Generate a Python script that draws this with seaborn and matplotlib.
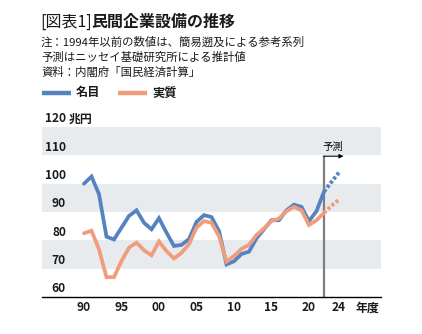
import numpy as np
import pandas as pd
import matplotlib
matplotlib.use("Agg")
import matplotlib.pyplot as plt
from matplotlib.lines import Line2D
import seaborn as sns

sns.set_theme(style="white")
plt.rcParams["font.family"] = ["Noto Sans CJK JP", "DejaVu Sans"]

# 年度 (fiscal years) and values, 兆円
years = list(range(1990, 2023))
nominal = [100.0, 102.5, 96.3, 81.3, 80.3, 84.5, 88.6, 90.6, 86.2, 83.9, 87.8,
           82.7, 78.0, 78.4, 80.4, 86.5, 88.9, 88.2, 83.3, 71.5, 72.6, 75.2,
           76.0, 80.7, 83.9, 87.1, 87.1, 90.6, 92.6, 91.8, 86.8, 90.3, 97.2]
real = [82.5, 83.4, 76.8, 67.0, 67.0, 72.7, 77.4, 79.2, 76.5, 74.7, 79.6,
        76.2, 73.6, 75.6, 78.6, 84.5, 86.8, 86.2, 81.5, 72.5, 74.5, 77.0,
        78.4, 81.9, 84.2, 86.8, 87.7, 90.3, 91.8, 90.6, 85.4, 87.1, 89.7]

fc_years = [2022, 2023, 2024]
fc_nominal = [97.2, 100.6, 104.0]
fc_real = [89.7, 92.2, 94.4]

series_names = ["名目", "実質"]
colors = {"名目": "#5483c0", "実質": "#f09d7d"}

yticks = [60, 70, 80, 90, 100, 110, 120]
xticks = [1990, 1995, 2000, 2005, 2010, 2015, 2020, 2024]
xticklabels = ["90", "95", "00", "05", "10", "15", "20", "24"]

hist = pd.DataFrame({
    "年度": years * 2,
    "値": nominal + real,
    "系列": ["名目"] * len(years) + ["実質"] * len(years),
})
fc = pd.DataFrame({
    "年度": fc_years * 2,
    "値": fc_nominal + fc_real,
    "系列": ["名目"] * len(fc_years) + ["実質"] * len(fc_years),
})

W, H = 422, 334
TXT = "#1a1a1a"
fig = plt.figure(figsize=(W / 100, H / 100), dpi=100)
ax = fig.add_axes([42 / W, 1 - 297 / H, (381 - 42) / W, (297 - 127) / H])

ax.set_xlim(1984.4, 2029.6)
ax.set_ylim(60, 120)

# alternating horizontal bands
for lo in (70, 90, 110):
    ax.axhspan(lo, lo + 10, color="#e8ebee", lw=0, zorder=0)

# forecast divider and arrow
ax.plot([2022, 2022], [60, 109.7], color="#7f7f7f", lw=1.6, zorder=1,
        solid_capstyle="butt")
ax.annotate("", xy=(2024.6, 109.7), xytext=(2021.9, 109.7),
            arrowprops=dict(arrowstyle="-|>", color="black", lw=0.8,
                            mutation_scale=6, shrinkA=0, shrinkB=0))
ax.text(2023.2, 111.2, "予測", ha="center", va="bottom", fontsize=7.5,
        color="black")

sns.lineplot(data=hist, x="年度", y="値", hue="系列", hue_order=series_names,
             palette=colors, lw=2.7, ax=ax, legend=False, zorder=3,
             sort=False)
sns.lineplot(data=fc, x="年度", y="値", hue="系列", hue_order=series_names,
             palette=colors, lw=2.8, ax=ax, legend=False, zorder=3,
             sort=False, linestyle=(0, (0.8, 0.55)))
for ln in ax.lines:
    ln.set_solid_joinstyle("miter")

# y labels sit just above their gridlines, inside the plot
ax.set_yticks([])
for v in yticks:
    ax.text(1987.6, v + 2.9, str(v), ha="right", va="center", fontsize=8.6,
            fontweight="bold", color=TXT)
ax.text(1988.0, 122.9, "兆円", ha="left", va="center", fontsize=8.6,
        fontweight="bold", color=TXT)

ax.set_xticks(xticks)
ax.set_xticklabels(xticklabels, fontsize=8.6, fontweight="bold", color=TXT)
ax.tick_params(axis="x", length=0, pad=3)
ax.text(2027.8, -0.03, "年度", transform=ax.get_xaxis_transform(),
        ha="center", va="top", fontsize=8.6, fontweight="bold", color=TXT)
ax.set_xlabel("")
ax.set_ylabel("")

for side in ("top", "right", "left"):
    ax.spines[side].set_visible(False)
ax.spines["bottom"].set_color("black")
ax.spines["bottom"].set_linewidth(1.0)

# heading: bracketed figure number, then the bold title right after it
renderer = fig.canvas.get_renderer()
t1 = fig.text(40 / W, 1 - 22 / H, "[図表1]", ha="left", va="center",
              fontsize=11.5, color=TXT)
bb = t1.get_window_extent(renderer=renderer)
fig.text(bb.x1 / W, 1 - 22 / H, "民間企業設備の推移", ha="left",
         va="center", fontsize=11.5, fontweight="bold", color=TXT)

notes = ["注：1994年以前の数値は、簡易遡及による参考系列",
         "予測はニッセイ基礎研究所による推計値",
         "資料：内閣府「国民経済計算」"]
for i, t in enumerate(notes):
    fig.text(41 / W, 1 - (42 + 15 * i) / H, t, ha="left", va="center",
             fontsize=8.2, color=TXT)

# legend swatches and labels
leg_y = 1 - 93 / H
for s, x0, x1, xt in [("名目", 42, 71, 76), ("実質", 118, 147, 152)]:
    fig.add_artist(Line2D([x0 / W, x1 / W], [leg_y, leg_y], color=colors[s],
                          lw=3.2, solid_capstyle="butt",
                          transform=fig.transFigure))
    fig.text(xt / W, leg_y, s, ha="left", va="center", fontsize=8.8,
             fontweight="bold", color=TXT)

fig.savefig("out.png", dpi=100)
